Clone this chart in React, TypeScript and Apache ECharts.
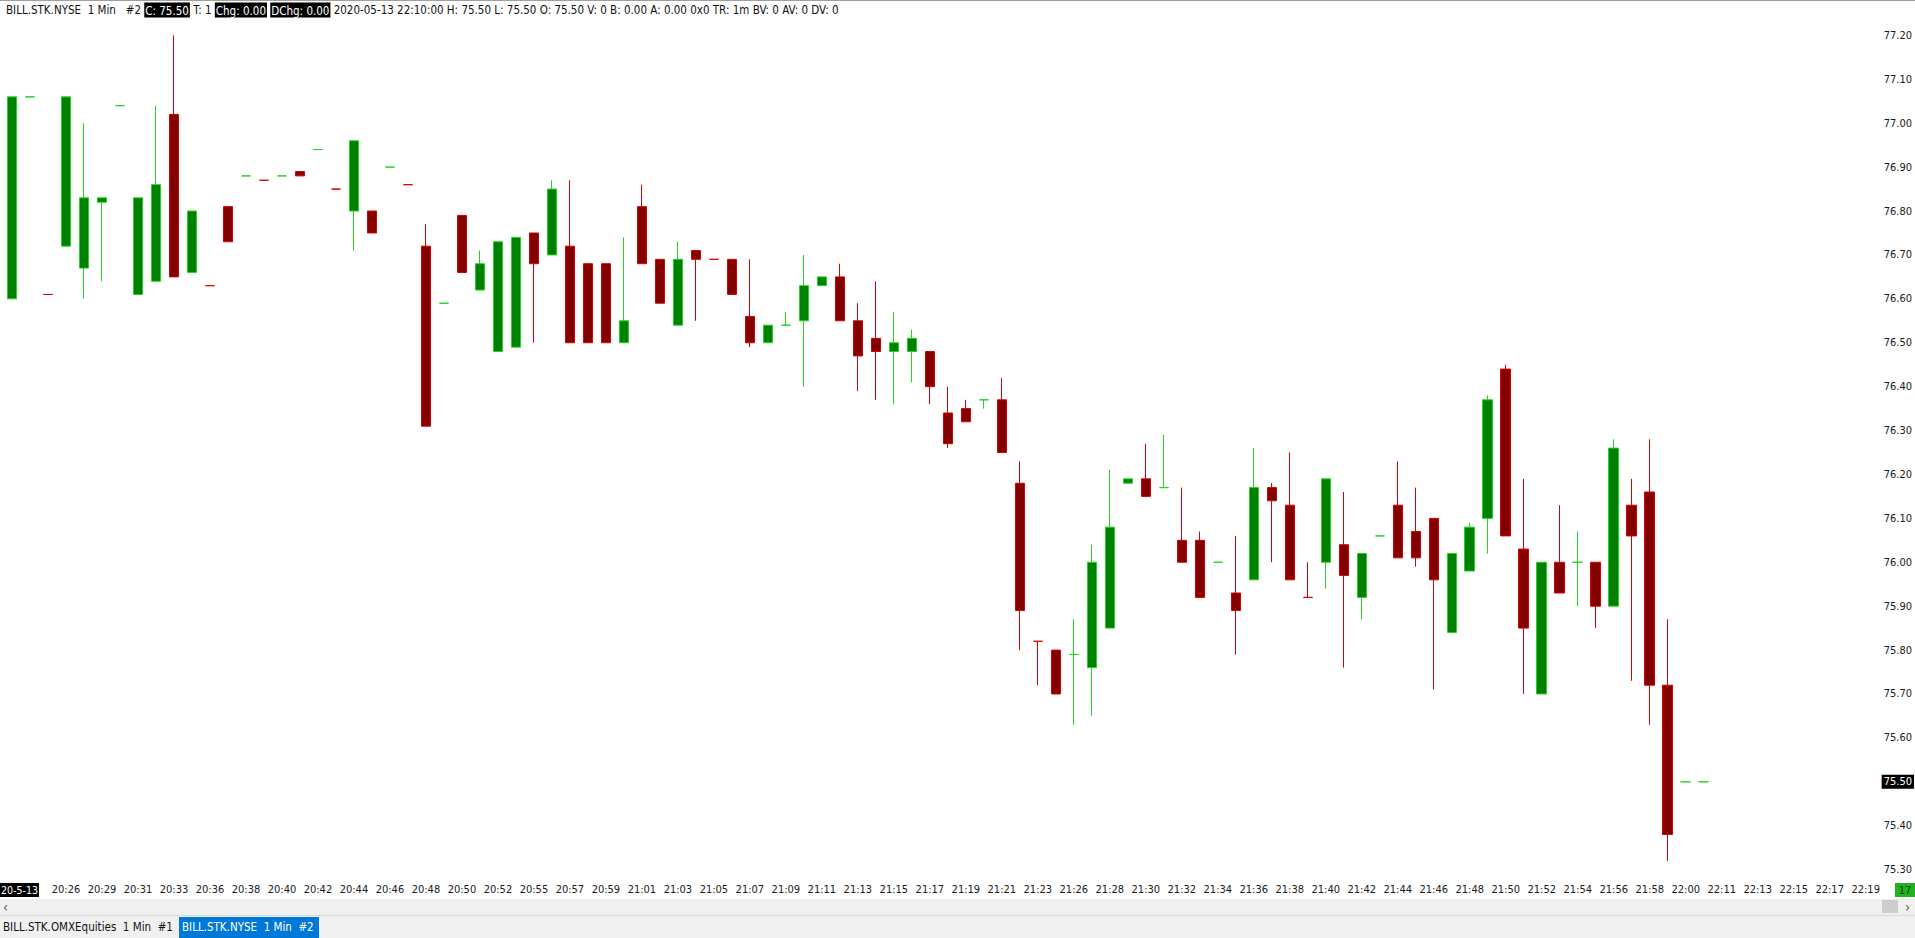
import { useEffect, useRef } from "react";
import * as echarts from "echarts";

// one entry per 1-minute bar slot on the category axis
const TIMES = [
  "20:22", "20:24", "20:25", "20:26", "20:27", "20:29", "20:30", "20:31", "20:32", "20:33",
  "20:34", "20:36", "20:37", "20:38", "20:39", "20:40", "20:41", "20:42", "20:43", "20:44",
  "20:45", "20:46", "20:47", "20:48", "20:49", "20:50", "20:51", "20:52", "20:53", "20:55",
  "20:56", "20:57", "20:58", "20:59", "21:00", "21:01", "21:02", "21:03", "21:04", "21:05",
  "21:06", "21:07", "21:08", "21:09", "21:10", "21:11", "21:12", "21:13", "21:14", "21:15",
  "21:16", "21:17", "21:18", "21:19", "21:20", "21:21", "21:22", "21:23", "21:24", "21:26",
  "21:27", "21:28", "21:29", "21:30", "21:31", "21:32", "21:33", "21:34", "21:35", "21:36",
  "21:37", "21:38", "21:39", "21:40", "21:41", "21:42", "21:43", "21:44", "21:45", "21:46",
  "21:47", "21:48", "21:49", "21:50", "21:51", "21:52", "21:53", "21:54", "21:55", "21:56",
  "21:57", "21:58", "21:59", "22:00", "22:10", "22:11", "22:12", "22:13", "22:14", "22:15",
  "22:16", "22:17", "22:18", "22:19",
];

// [open, close, low, high]
const CANDLES: [number, number, number, number][] = [
  [76.60, 77.06, 76.60, 77.06], [77.06, 77.06, 77.06, 77.06], [76.61, 76.61, 76.61, 76.61],
  [76.72, 77.06, 76.72, 77.06], [76.67, 76.83, 76.60, 77.00], [76.82, 76.83, 76.64, 76.83],
  [77.04, 77.04, 77.04, 77.04], [76.61, 76.83, 76.61, 76.83], [76.64, 76.86, 76.64, 77.04],
  [77.02, 76.65, 76.65, 77.20], [76.66, 76.80, 76.66, 76.80], [76.63, 76.63, 76.63, 76.63],
  [76.81, 76.73, 76.73, 76.81], [76.88, 76.88, 76.88, 76.88], [76.87, 76.87, 76.87, 76.87],
  [76.88, 76.88, 76.88, 76.88], [76.89, 76.88, 76.88, 76.89], [76.94, 76.94, 76.94, 76.94],
  [76.85, 76.85, 76.85, 76.85], [76.80, 76.96, 76.71, 76.96], [76.80, 76.75, 76.75, 76.80],
  [76.90, 76.90, 76.90, 76.90], [76.86, 76.86, 76.86, 76.86], [76.72, 76.31, 76.31, 76.77],
  [76.59, 76.59, 76.59, 76.59], [76.79, 76.66, 76.66, 76.79], [76.62, 76.68, 76.62, 76.71],
  [76.48, 76.73, 76.48, 76.73], [76.49, 76.74, 76.49, 76.74], [76.75, 76.68, 76.50, 76.75],
  [76.70, 76.85, 76.70, 76.87], [76.72, 76.50, 76.50, 76.87], [76.68, 76.50, 76.50, 76.68],
  [76.68, 76.50, 76.50, 76.68], [76.50, 76.55, 76.50, 76.74], [76.81, 76.68, 76.68, 76.86],
  [76.69, 76.59, 76.59, 76.69], [76.54, 76.69, 76.54, 76.73], [76.71, 76.69, 76.55, 76.71],
  [76.69, 76.69, 76.69, 76.69], [76.69, 76.61, 76.61, 76.69], [76.56, 76.50, 76.49, 76.69],
  [76.50, 76.54, 76.50, 76.54], [76.54, 76.54, 76.54, 76.57], [76.55, 76.63, 76.40, 76.70],
  [76.63, 76.65, 76.63, 76.65], [76.65, 76.55, 76.55, 76.68], [76.55, 76.47, 76.39, 76.59],
  [76.51, 76.48, 76.37, 76.64], [76.48, 76.50, 76.36, 76.57], [76.48, 76.51, 76.41, 76.53],
  [76.48, 76.40, 76.36, 76.48], [76.34, 76.27, 76.26, 76.40], [76.35, 76.32, 76.32, 76.37],
  [76.37, 76.37, 76.35, 76.37], [76.37, 76.25, 76.25, 76.42], [76.18, 75.89, 75.80, 76.23],
  [75.82, 75.82, 75.72, 75.82], [75.80, 75.70, 75.70, 75.80], [75.79, 75.79, 75.63, 75.87],
  [75.76, 76.00, 75.65, 76.04], [75.85, 76.08, 75.85, 76.21], [76.18, 76.19, 76.18, 76.19],
  [76.19, 76.15, 76.15, 76.27], [76.17, 76.17, 76.17, 76.29], [76.05, 76.00, 76.00, 76.17],
  [76.05, 75.92, 75.92, 76.07], [76.00, 76.00, 76.00, 76.00], [75.93, 75.89, 75.79, 76.06],
  [75.96, 76.17, 75.96, 76.26], [76.17, 76.14, 76.00, 76.18], [76.13, 75.96, 75.96, 76.25],
  [75.92, 75.92, 75.92, 76.00], [76.00, 76.19, 75.94, 76.19], [76.04, 75.97, 75.76, 76.16],
  [75.92, 76.02, 75.87, 76.02], [76.06, 76.06, 76.06, 76.06], [76.13, 76.01, 76.01, 76.23],
  [76.07, 76.01, 75.99, 76.17], [76.10, 75.96, 75.71, 76.10], [75.84, 76.02, 75.84, 76.02],
  [75.98, 76.08, 75.98, 76.09], [76.10, 76.37, 76.02, 76.38], [76.44, 76.06, 76.06, 76.45],
  [76.03, 75.85, 75.70, 76.19], [75.70, 76.00, 75.70, 76.00], [76.00, 75.93, 75.93, 76.13],
  [76.00, 76.00, 75.90, 76.07], [76.00, 75.90, 75.85, 76.00], [75.90, 76.26, 75.90, 76.28],
  [76.13, 76.06, 75.73, 76.19], [76.16, 75.72, 75.63, 76.28], [75.72, 75.38, 75.32, 75.87],
  [75.50, 75.50, 75.50, 75.50], [75.50, 75.50, 75.50, 75.50],
];

const PRICE_MIN = 75.3;
const PRICE_MAX = 77.2;
const PRICE_STEP = 0.1;
const LAST_PRICE = 75.5;

const HEADER_TITLE = "BILL.STK.NYSE  1 Min   #2";
const HEADER_PARTS = [
  { boxed: true, text: "C: 75.50" },
  { boxed: false, text: "T: 1" },
  { boxed: true, text: "Chg: 0.00" },
  { boxed: true, text: "DChg: 0.00" },
  {
    boxed: false,
    text: "2020-05-13 22:10:00 H: 75.50 L: 75.50 O: 75.50 V: 0 B: 0.00 A: 0.00 0x0 TR: 1m BV: 0 AV: 0 DV: 0",
  },
];
const DATE_TAG = "20-5-13";
const COUNTDOWN = "17";
const TABS = ["BILL.STK.OMXEquities  1 Min  #1", "BILL.STK.NYSE  1 Min  #2"];

const FONT = "'DejaVu Sans Condensed', 'Liberation Sans Narrow', sans-serif";
const TEXT_SIZE = 11.5;
const AXIS_SIZE = 11;
const UP_FILL = "#008000";
const UP_LINE = "#22d322";
const DOWN_FILL = "#820000";
const DOWN_LINE = "#d80000";

export default function App() {
  const chartRef = useRef<HTMLDivElement>(null);

  useEffect(() => {
    if (!chartRef.current) return;
    document.body.style.margin = "0";
    const chart = echarts.init(chartRef.current, undefined, { renderer: "svg" });

    // flat bars take the colour of the move from the previous close
    let prevUp = true;
    const seriesData = CANDLES.map(([o, c, l, h], i) => {
      let up: boolean;
      if (c > o) up = true;
      else if (c < o) up = false;
      else {
        const pc = i > 0 ? CANDLES[i - 1][1] : c;
        up = c > pc ? true : c < pc ? false : prevUp;
      }
      prevUp = up;
      if (o !== c) return [o, c, l, h];
      const line = up ? UP_LINE : DOWN_LINE;
      return {
        value: [o, c, l, h],
        itemStyle: {
          color: line,
          color0: line,
          borderColor: line,
          borderColor0: line,
          borderColorDoji: line,
        },
      };
    });

    let headerText = `{n|${HEADER_TITLE} }`;
    HEADER_PARTS.forEach((p, i) => {
      headerText += p.boxed ? `{b|${p.text}}` : `{n|${p.text}}`;
      if (i < HEADER_PARTS.length - 1) headerText += "{n| }";
    });

    const option: echarts.EChartsOption = {
      animation: false,
      backgroundColor: "#ffffff",
      grid: { left: 3, right: 40, top: 35.4, bottom: 68.4, containLabel: false },
      xAxis: {
        type: "category",
        data: TIMES,
        boundaryGap: true,
        axisLine: { show: false },
        axisTick: { show: false },
        splitLine: { show: false },
        axisLabel: {
          interval: (idx: number) => idx % 2 === 1 && idx > 1,
          hideOverlap: false,
          margin: 14,
          color: "#1a1a1a",
          fontSize: AXIS_SIZE,
          fontFamily: FONT,
        },
      },
      yAxis: {
        type: "value",
        position: "right",
        min: PRICE_MIN,
        max: PRICE_MAX,
        interval: PRICE_STEP,
        scale: true,
        axisLine: { show: false },
        axisTick: { show: false },
        splitLine: { show: false },
        axisLabel: {
          align: "left",
          margin: 9,
          color: "#1a1a1a",
          fontSize: AXIS_SIZE,
          fontFamily: FONT,
          formatter: (v: number) => (Math.abs(v - LAST_PRICE) < 1e-6 ? "" : v.toFixed(2)),
        },
      },
      series: [
        {
          type: "candlestick",
          data: seriesData as any,
          barWidth: 10,
          itemStyle: {
            color: UP_FILL,
            color0: DOWN_FILL,
            borderColor: UP_LINE,
            borderColor0: DOWN_LINE,
            borderWidth: 1,
          },
          markLine: {
            silent: true,
            symbol: "none",
            lineStyle: { color: "rgba(0,0,0,0)", width: 1, type: "solid" },
            data: [{ yAxis: LAST_PRICE }],
            label: {
              show: true,
              position: "end",
              distance: 7,
              formatter: LAST_PRICE.toFixed(2),
              backgroundColor: "#000000",
              color: "#ffffff",
              padding: [2, 2, 1, 2],
              fontSize: AXIS_SIZE,
              fontFamily: FONT,
            },
          },
        },
      ],
      graphic: [
        { type: "rect", shape: { x: 0, y: 0, width: 1915, height: 1 }, style: { fill: "#a0a0a0" } },
        {
          type: "text",
          x: 6,
          y: 10,
          style: {
            text: headerText,
            verticalAlign: "middle",
            font: `${TEXT_SIZE}px ${FONT}`,
            rich: {
              n: { fill: "#111111", fontSize: TEXT_SIZE, fontFamily: FONT },
              b: {
                fill: "#ffffff",
                backgroundColor: "#000000",
                fontSize: TEXT_SIZE,
                fontFamily: FONT,
                padding: [2, 1, 1, 1],
              },
            },
          },
        },
        // date tag at the left of the time axis
        { type: "rect", shape: { x: 0, y: 883, width: 39, height: 14 }, style: { fill: "#000000" } },
        {
          type: "text",
          x: 19.5,
          y: 890,
          style: {
            text: DATE_TAG,
            align: "center",
            verticalAlign: "middle",
            fill: "#ffffff",
            fontSize: 10.5,
            fontFamily: FONT,
          },
        },
        // countdown box at bottom right
        { type: "rect", shape: { x: 1895, y: 883, width: 20, height: 14 }, style: { fill: "#1fb41f" } },
        {
          type: "text",
          x: 1905,
          y: 890,
          style: {
            text: COUNTDOWN,
            align: "center",
            verticalAlign: "middle",
            fill: "#0a3a0a",
            fontSize: AXIS_SIZE,
            fontFamily: FONT,
          },
        },
        // scrollbar
        { type: "rect", shape: { x: 0, y: 899, width: 1915, height: 16 }, style: { fill: "#f0f0f0" } },
        { type: "rect", shape: { x: 1882, y: 900, width: 16, height: 13 }, style: { fill: "#cdcdcd" } },
        {
          type: "text",
          x: 3,
          y: 907,
          style: { text: "‹", verticalAlign: "middle", fill: "#555555", fontSize: 14, fontFamily: FONT },
        },
        {
          type: "text",
          x: 1905,
          y: 907,
          style: { text: "›", verticalAlign: "middle", fill: "#555555", fontSize: 14, fontFamily: FONT },
        },
        { type: "rect", shape: { x: 0, y: 915, width: 1915, height: 1 }, style: { fill: "#d9d9d9" } },
        // tab bar
        { type: "rect", shape: { x: 0, y: 916, width: 1915, height: 22 }, style: { fill: "#f0f0f0" } },
        {
          type: "text",
          x: 3,
          y: 927,
          style: { text: TABS[0], verticalAlign: "middle", fill: "#111111", fontSize: TEXT_SIZE, fontFamily: FONT },
        },
        { type: "rect", shape: { x: 179, y: 917, width: 140, height: 21 }, style: { fill: "#0078d7" } },
        {
          type: "text",
          x: 182,
          y: 927,
          style: { text: TABS[1], verticalAlign: "middle", fill: "#ffffff", fontSize: TEXT_SIZE, fontFamily: FONT },
        },
      ],
    };

    chart.setOption(option);
    return () => chart.dispose();
  }, []);

  return (
    <div
      ref={chartRef}
      style={{ position: "fixed", left: 0, top: 0, width: 1915, height: 938, background: "#ffffff" }}
    />
  );
}
